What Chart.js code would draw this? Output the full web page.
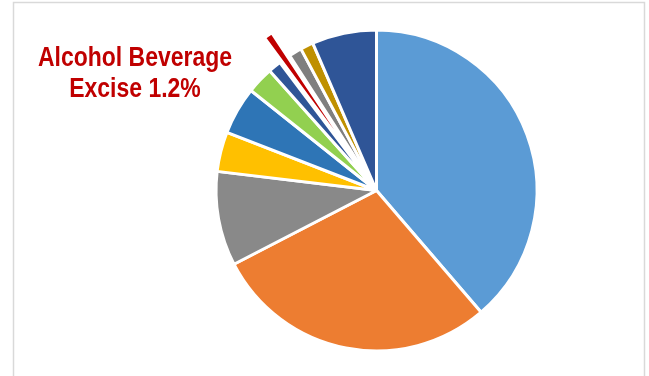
<!DOCTYPE html>
<html>
<head>
<meta charset="utf-8">
<script src="https://cdn.jsdelivr.net/npm/chart.js@4.4.0/dist/chart.umd.min.js"></script>
<style>
  body { margin: 0; background: #fff; }
  #wrap { position: relative; width: 649px; height: 376px; }
</style>
</head>
<body>
<div id="wrap"><canvas id="pie" width="649" height="376"></canvas></div>
<script>
const categories = ['', '', '', '', '', '', '', 'Alcohol Beverage Excise', '', '', ''];
const shares = [38.7, 28.7, 9.5, 4.0, 4.8, 2.7, 1.3, 1.2, 1.3, 1.3, 6.5];
const sliceColors = ['#5B9BD5', '#ED7D31', '#898989', '#FFC000', '#2E75B6', '#92D050',
                     '#2F5597', '#C00000', '#7F7F7F', '#BF9000', '#2F5597'];
const highlightIndex = 7;
const calloutTitle = 'Alcohol Beverage';
const calloutPrefix = 'Excise';

// light grey box the chart sits in
const framePlugin = {
  id: 'frame',
  beforeDraw(chart) {
    const ctx = chart.ctx;
    ctx.save();
    ctx.strokeStyle = '#D9D9D9';
    ctx.lineWidth = 1.5;
    ctx.strokeRect(13.5, 2.5, 631, 420);
    ctx.restore();
  }
};

// red label for the pulled-out slice, squeezed to a narrow face
function narrowText(ctx, text, cx, y, width) {
  const w = ctx.measureText(text).width;
  ctx.save();
  ctx.translate(cx, y);
  ctx.scale(width / w, 1);
  ctx.fillText(text, 0, 0);
  ctx.restore();
}

const calloutPlugin = {
  id: 'callout',
  afterDraw(chart) {
    const ctx = chart.ctx;
    const lines = [calloutTitle, calloutPrefix + ' ' + shares[highlightIndex].toFixed(1) + '%'];
    ctx.save();
    ctx.fillStyle = '#C00000';
    ctx.font = 'bold 27px "Liberation Sans", Arial, sans-serif';
    ctx.textAlign = 'center';
    ctx.textBaseline = 'alphabetic';
    const squeeze = 194 / ctx.measureText(lines[0]).width;
    narrowText(ctx, lines[0], 135, 66, ctx.measureText(lines[0]).width * squeeze);
    narrowText(ctx, lines[1], 135, 97, ctx.measureText(lines[1]).width * squeeze);
    ctx.restore();
  }
};

new Chart(document.getElementById('pie'), {
  type: 'pie',
  data: {
    labels: categories,
    datasets: [{
      data: shares,
      backgroundColor: sliceColors,
      borderColor: '#FFFFFF',
      borderWidth: 3,
      offset: shares.map((v, i) => i === highlightIndex ? 60 : 0)
    }]
  },
  options: {
    responsive: false,
    animation: false,
    devicePixelRatio: 1,
    radius: 160.5,
    layout: { padding: { left: 110, right: 6, top: 10, bottom: 5 } },
    plugins: {
      legend: { display: false },
      tooltip: { enabled: false }
    }
  },
  plugins: [framePlugin, calloutPlugin]
});
</script>
</body>
</html>
